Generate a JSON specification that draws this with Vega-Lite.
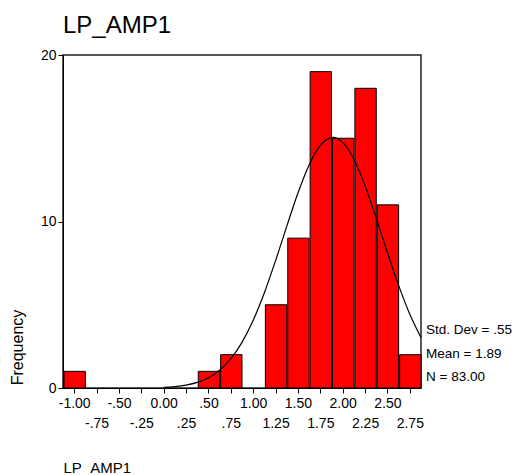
{
  "$schema": "https://vega.github.io/schema/vega-lite/v6.json",
  "width": 358,
  "height": 333,
  "autosize": "none",
  "padding": {"left": 63, "top": 55, "right": 98, "bottom": 87},
  "background": "white",
  "config": {
    "font": "Liberation Sans",
    "view": {"stroke": "#222", "strokeWidth": 1.5},
    "axis": {"domainColor": "black", "tickColor": "black", "labelColor": "black", "titleColor": "black", "grid": false, "labelOverlap": false}
  },
  "title": {"text": "LP_AMP1", "anchor": "start", "frame": "group", "fontSize": 24, "fontWeight": "normal", "font": "Liberation Sans", "color": "black", "baseline": "alphabetic", "offset": 23, "dy": 32},
  "datasets": {
    "bins": [
      {"center": -1.0, "lo": -1.125, "hi": -0.875, "count": 1},
      {"center": 0.5, "lo": 0.375, "hi": 0.625, "count": 1},
      {"center": 0.75, "lo": 0.625, "hi": 0.875, "count": 2},
      {"center": 1.25, "lo": 1.125, "hi": 1.375, "count": 5},
      {"center": 1.5, "lo": 1.375, "hi": 1.625, "count": 9},
      {"center": 1.75, "lo": 1.625, "hi": 1.875, "count": 19},
      {"center": 2.0, "lo": 1.875, "hi": 2.125, "count": 15},
      {"center": 2.25, "lo": 2.125, "hi": 2.375, "count": 18},
      {"center": 2.5, "lo": 2.375, "hi": 2.625, "count": 11},
      {"center": 2.75, "lo": 2.625, "hi": 2.875, "count": 2}
    ],
    "curve": [
      {"x": 0.0, "y": 0.041},
      {"x": 0.125, "y": 0.087},
      {"x": 0.25, "y": 0.177},
      {"x": 0.375, "y": 0.339},
      {"x": 0.5, "y": 0.617},
      {"x": 0.625, "y": 1.069},
      {"x": 0.75, "y": 1.757},
      {"x": 0.875, "y": 2.742},
      {"x": 1.0, "y": 4.065},
      {"x": 1.125, "y": 5.72},
      {"x": 1.25, "y": 7.647},
      {"x": 1.375, "y": 9.709},
      {"x": 1.5, "y": 11.71},
      {"x": 1.625, "y": 13.4},
      {"x": 1.75, "y": 14.57},
      {"x": 1.875, "y": 15.04},
      {"x": 1.89, "y": 15.05},
      {"x": 2.0, "y": 14.75},
      {"x": 2.125, "y": 13.74},
      {"x": 2.25, "y": 12.15},
      {"x": 2.375, "y": 10.2},
      {"x": 2.5, "y": 8.136},
      {"x": 2.625, "y": 6.162},
      {"x": 2.75, "y": 4.432},
      {"x": 2.875, "y": 3.03}
    ],
    "stats": [
      {"text": "Std. Dev = .55|Mean = 1.89|N = 83.00"}
    ]
  },
  "resolve": {"scale": {"x": "shared", "y": "shared"}, "axis": {"x": "independent"}},
  "layer": [
    {
      "data": {"name": "bins"},
      "mark": {"type": "bar", "fill": "#FF0000", "stroke": "black", "strokeWidth": 1, "cornerRadius": 0},
      "encoding": {
        "x": {
          "field": "lo", "type": "quantitative", "bin": "binned",
          "scale": {"domain": [-1.125, 2.875], "nice": false, "zero": false},
          "axis": {
            "title": null, "orient": "bottom",
            "values": [-1, -0.75, -0.5, -0.25, 0, 0.25, 0.5, 0.75, 1, 1.25, 1.5, 1.75, 2, 2.25, 2.5, 2.75],
            "labelExpr": "(round(datum.value * 4) % 2 == 0) ? (datum.value == 0 ? '0.00' : replace(replace(format(datum.value, '.2f'), '0.', '.'), '\u2212', '-')) : ''",
            "labelFontSize": 14, "labelOverlap": false, "labelFlush": false, "labelPadding": 3,
            "tickSize": 5, "domain": true
          }
        },
        "x2": {"field": "hi"},
        "y": {
          "field": "count", "type": "quantitative",
          "scale": {"domain": [0, 20], "nice": false},
          "axis": {
            "title": "Frequency", "titleFontSize": 16, "titleFontWeight": "normal",
            "titleAngle": -90, "titleAlign": "center", "titleBaseline": "middle",
            "titleX": -45.5, "titleY": 292,
            "values": [0, 10, 20], "labelFontSize": 14, "tickSize": 5, "labelPadding": 2
          }
        },
        "y2": {"datum": 0}
      }
    },
    {
      "data": {"name": "curve"},
      "mark": {"type": "line", "color": "black", "strokeWidth": 1.2, "interpolate": "monotone"},
      "encoding": {
        "x": {
          "field": "x", "type": "quantitative",
          "axis": {
            "title": "LP_AMP1", "orient": "bottom",
            "titleFontSize": 15, "titleFontWeight": "normal", "titleAnchor": "start", "titleAlign": "left", "titleBaseline": "middle",
            "titleX": 0, "titleY": 79,
            "values": [-0.75, -0.25, 0.25, 0.75, 1.25, 1.75, 2.25, 2.75],
            "labelExpr": "replace(replace(format(datum.value, '.2f'), '0.', '.'), '\u2212', '-')",
            "labelFontSize": 14, "labelOverlap": false, "labelFlush": false, "labelPadding": 28,
            "tickSize": 0, "ticks": false, "domain": false
          }
        },
        "y": {"field": "y", "type": "quantitative"}
      }
    },
    {
      "data": {"name": "stats"},
      "mark": {"type": "text", "align": "left", "baseline": "middle", "fontSize": 13.5, "lineBreak": "|", "lineHeight": 23.5, "dx": 5, "color": "black"},
      "encoding": {
        "x": {"datum": 2.875, "axis": null},
        "y": {"datum": 3.48},
        "text": {"field": "text"}
      }
    }
  ]
}
